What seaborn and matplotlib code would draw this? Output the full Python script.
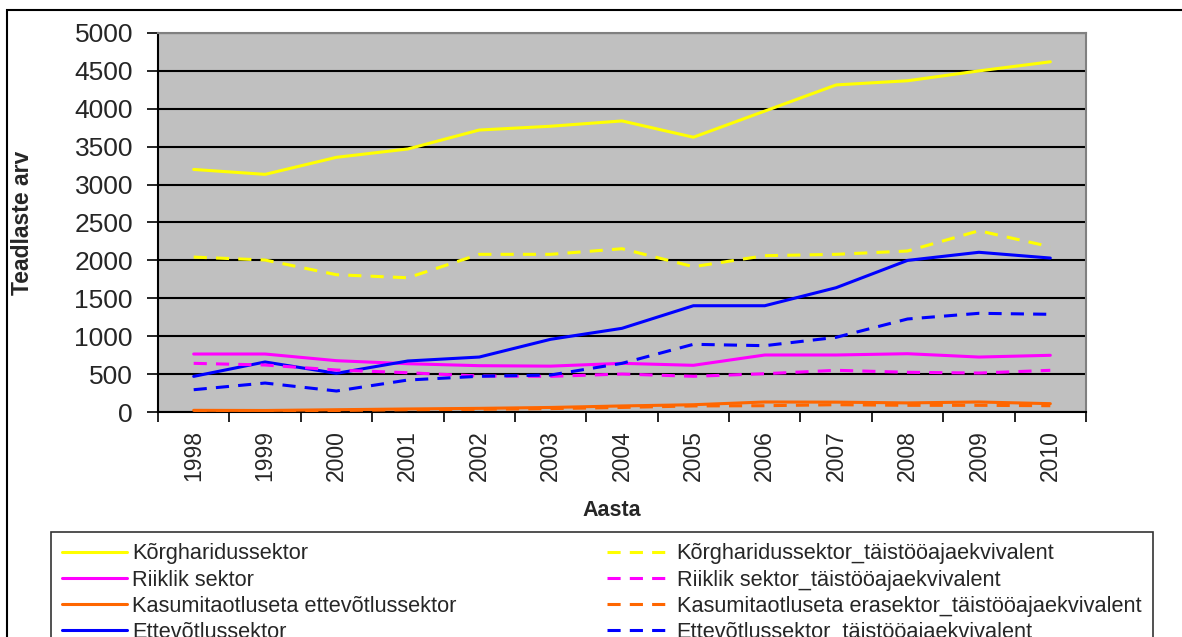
import matplotlib
matplotlib.use("Agg")
import matplotlib.pyplot as plt
import seaborn as sns
import pandas as pd
from matplotlib.patches import Rectangle
from matplotlib.ticker import MultipleLocator

years = [1998, 1999, 2000, 2001, 2002, 2003, 2004, 2005, 2006, 2007, 2008, 2009, 2010]

korg = [3200, 3135, 3360, 3470, 3720, 3770, 3840, 3625, 3970, 4315, 4370, 4500, 4620]
riik = [765, 765, 677, 637, 611, 605, 642, 616, 752, 752, 769, 725, 748]
kasum = [22, 20, 30, 40, 48, 60, 80, 96, 132, 130, 120, 132, 110]
ette = [470, 660, 510, 673, 725, 959, 1104, 1402, 1402, 1640, 2000, 2107, 2031]

korg_ta = [2044, 2005, 1811, 1771, 2080, 2080, 2154, 1917, 2062, 2080, 2124, 2391, 2180]
riik_ta = [642, 620, 554, 518, 475, 470, 501, 471, 505, 550, 524, 514, 550]
kasum_ta = [15, 15, 20, 30, 35, 45, 60, 80, 83, 96, 88, 88, 83]
ette_ta = [294, 382, 277, 422, 471, 488, 642, 893, 875, 985, 1227, 1302, 1289]

labels_solid = ["Kõrgharidussektor", "Riiklik sektor",
                "Kasumitaotluseta ettevõtlussektor", "Ettevõtlussektor"]
labels_dash = ["Kõrgharidussektor_täistööajaekvivalent", "Riiklik sektor_täistööajaekvivalent",
               "Kasumitaotluseta erasektor_täistööajaekvivalent", "Ettevõtlussektor_täistööajaekvivalent"]
colors = ["#FFFF00", "#FF00FF", "#FF6600", "#0000FF"]

sns.set_style("white")
plt.rcParams['font.family'] = ['Liberation Sans', 'DejaVu Sans']

fig = plt.figure(figsize=(11.82, 6.37), dpi=100)
ax = fig.add_axes([158/1182, (637-412)/637, (1086-158)/1182, (412-33)/637])
ax.set_facecolor("#C0C0C0")

solid_data = [korg, riik, kasum, ette]
dash_data = [korg_ta, riik_ta, kasum_ta, ette_ta]

for vals, lab, col in zip(solid_data, labels_solid, colors):
    sns.lineplot(x=years, y=vals, ax=ax, color=col, linewidth=2.2, label=lab, zorder=3)
for vals, lab, col in zip(dash_data, labels_dash, colors):
    sns.lineplot(x=years, y=vals, ax=ax, color=col, linewidth=2.2, label=lab,
                 linestyle=(0, (4.3, 3.0)), zorder=3)

h, l = ax.get_legend_handles_labels()
if ax.get_legend() is not None:
    ax.get_legend().remove()

ax.set_xlim(1997.5, 2010.5)
ax.set_ylim(0, 5000)
ax.yaxis.set_major_locator(MultipleLocator(500))
ax.set_xticks(years)
ax.set_xticklabels([str(y) for y in years], rotation=90, fontsize=16.5)
ax.set_xticks([y - 0.5 for y in years] + [2010.5], minor=True)
ax.tick_params(axis='x', which='major', length=0, pad=13)
ax.tick_params(axis='x', which='minor', length=7, width=1.2, color='black', direction='out', bottom=True)
ax.tick_params(axis='y', which='major', length=8, width=1.2, color='black', direction='out',
               left=True, labelsize=19, pad=10)

ax.grid(axis='y', color='black', linewidth=1.5, zorder=1)
ax.grid(axis='x', visible=False)
ax.set_axisbelow(True)

for s in ['top', 'right']:
    ax.spines[s].set_color('#808080')
    ax.spines[s].set_linewidth(1.5)
for s in ['left', 'bottom']:
    ax.spines[s].set_color('black')
    ax.spines[s].set_linewidth(1.5)

ax.set_ylabel("Teadlaste arv", fontsize=16.5, fontweight='bold')
ax.set_xlabel("Aasta", fontsize=15.5, fontweight='bold')
ax.yaxis.set_label_coords((34-158)/928, 0.5)
ax.xaxis.set_label_coords((612-158)/928, (412-500)/379)

leg = fig.legend(h, l, loc='upper left', bbox_to_anchor=(51/1182, (637-532)/637),
                 ncol=2, fontsize=15.7, frameon=True, fancybox=False, shadow=False,
                 handlelength=2.95, handletextpad=0.25, columnspacing=6.9,
                 labelspacing=0.24, borderpad=0.52, borderaxespad=0)
leg.get_frame().set_edgecolor('black')
leg.get_frame().set_linewidth(1.2)
leg.get_frame().set_facecolor('white')

fig.patches.append(Rectangle((7/1182, -0.2), 1.2, (637-10)/637 + 0.2,
                             transform=fig.transFigure, fill=False,
                             edgecolor='black', linewidth=1.5, zorder=0))

fig.savefig("out.png", dpi=100, facecolor='white')
